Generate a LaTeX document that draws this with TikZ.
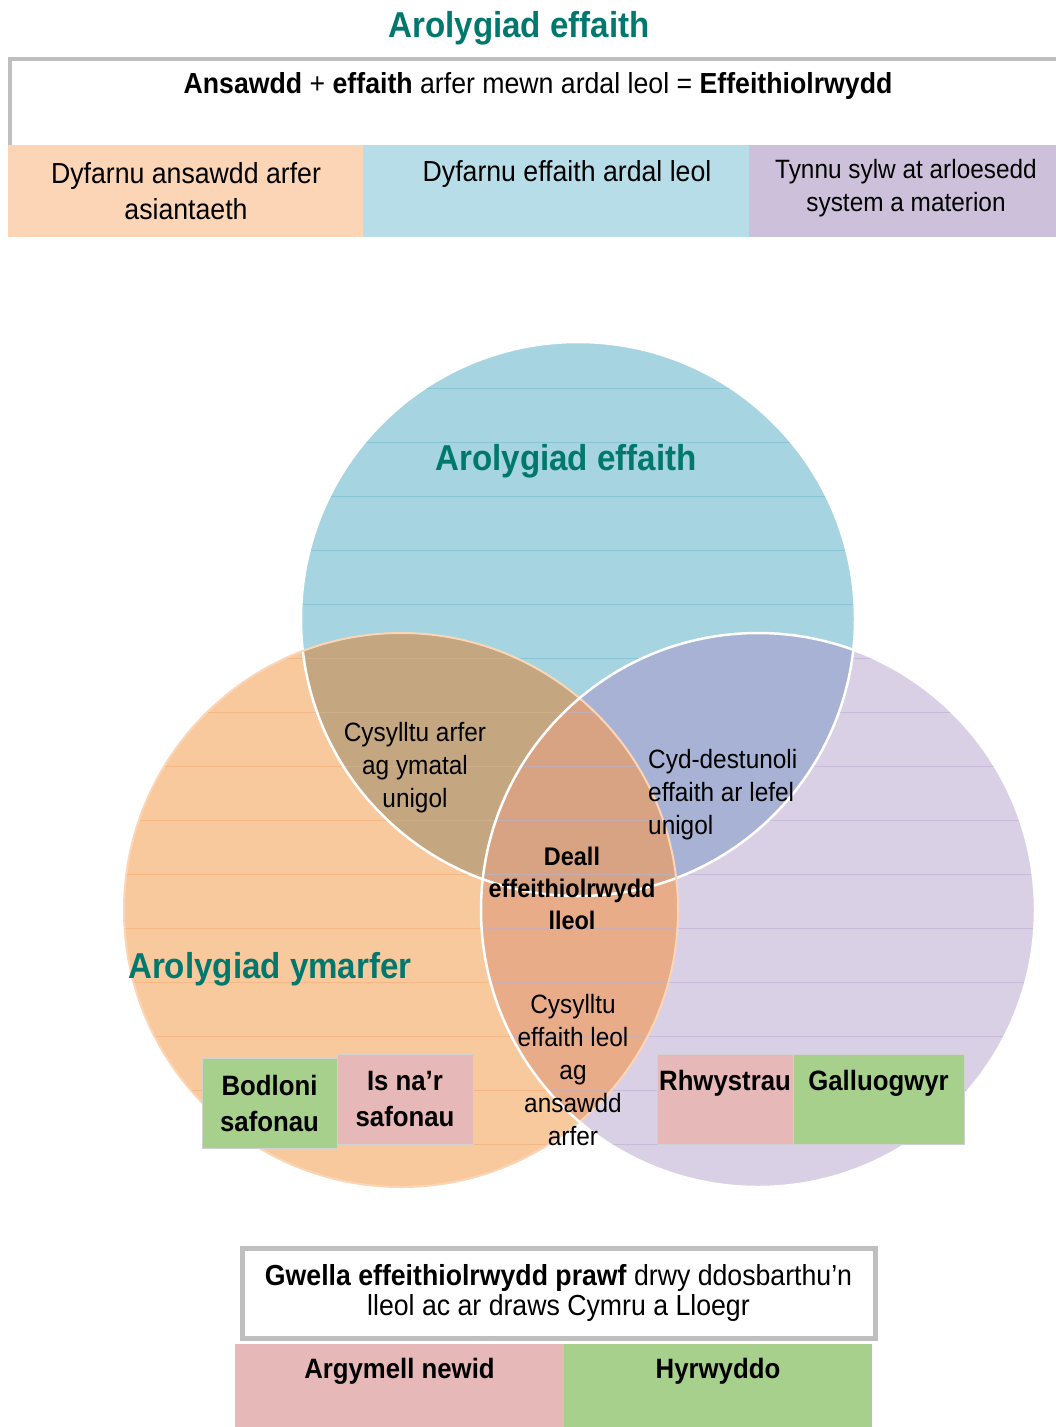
\documentclass[tikz,border=0pt]{standalone}
\usepackage{fontspec}
\setmainfont{Liberation Sans}[FakeStretch=0.92]
\definecolor{titlegreen}{RGB}{0,120,110}
\definecolor{boxgrey}{RGB}{191,191,191}
\definecolor{stripor}{RGB}{251,213,181}
\definecolor{stripbl}{RGB}{183,221,232}
\definecolor{stripli}{RGB}{204,192,218}
\definecolor{circbl}{RGB}{166,212,224}
\definecolor{circor}{RGB}{249,201,158}
\definecolor{circli}{RGB}{218,208,229}
\definecolor{ovtl}{RGB}{196,166,128}
\definecolor{ovtr}{RGB}{167,178,212}
\definecolor{ovlr}{RGB}{232,172,137}
\definecolor{ovall}{RGB}{216,163,131}
\definecolor{lnbl}{RGB}{118,188,206}
\definecolor{lnor}{RGB}{243,172,116}
\definecolor{lnli}{RGB}{188,174,210}
\definecolor{boxgreen}{RGB}{168,208,141}
\definecolor{boxpink}{RGB}{230,184,183}
\begin{document}
\begin{tikzpicture}[x=1pt,y=-1pt,
  txt/.style={align=center,inner sep=0pt,font=\fontsize{26.5}{33}\selectfont},
  wide/.style={txt,font=\fontsize{29}{36}\selectfont},
  bold/.style={txt,font=\fontsize{28}{36}\selectfont\bfseries},
  head/.style={inner sep=0pt,text=titlegreen,font=\fontsize{36}{40}\selectfont\bfseries},
  band/.style={inner sep=0pt,minimum height=92pt},
  tile/.style={draw=black!18,line width=1pt,inner sep=0pt,minimum height=90pt}]
\useasboundingbox (0,0) rectangle (1056,1427);
\tikzset{ring/.style={radius=277}}
% top part
\node[head] (title) at (519,28) {Arolygiad effaith};
\draw[boxgrey,line width=4pt] (1060,59) -- (10,59) -- (10,147);
\node[wide] (sum) at (538,86) {\textbf{Ansawdd} + \textbf{effaith} arfer mewn ardal leol = \textbf{Effeithiolrwydd}};
\node[band,fill=stripor,minimum width=355pt] (judge) at (185.5,191) {};
\node[band,fill=stripbl,minimum width=386pt] (area) at (556,191) {};
\node[band,fill=stripli,minimum width=307pt] (note) at (902.5,191) {};
\node[wide] (judget) at (186,191) {Dyfarnu ansawdd arfer\\asiantaeth};
\node[wide] (areat) at (567,174) {Dyfarnu effaith ardal leol};
\node[txt,font=\fontsize{26.5}{33}\selectfont] (notet) at (906,188) {Tynnu sylw at arloesedd\\system a materion};
% venn
\coordinate (ct) at (578,619);
\coordinate (cl) at (401,910);
\coordinate (cr) at (758,910);
\fill[circbl] (ct) circle[ring];
\fill[circor] (cl) circle[ring];
\fill[circli] (cr) circle[ring];
\begin{scope}
  \clip (ct) circle[ring];
  \fill[ovtl] (cl) circle[ring];
  \fill[ovtr] (cr) circle[ring];
\end{scope}
\begin{scope}
  \clip (cl) circle[ring];
  \fill[ovlr] (cr) circle[ring];
  \clip (ct) circle[ring];
  \fill[ovall] (cr) circle[ring];
\end{scope}
\begin{scope}
  \clip (ct) circle[ring];
  \foreach \yy in {388,442,...,900} \draw[lnbl,opacity=.6] (0,\yy) -- (1056,\yy);
\end{scope}
\begin{scope}
  \clip (cl) circle[ring];
  \foreach \yy in {658,712,...,1190} \draw[lnor,opacity=.6] (0,\yy) -- (1056,\yy);
\end{scope}
\begin{scope}
  \clip (cr) circle[ring];
  \foreach \yy in {658,712,...,1190} \draw[lnli,opacity=.6] (0,\yy) -- (1056,\yy);
\end{scope}
\draw[white,line width=2.5pt] (ct) circle[ring];
\draw[stripor,line width=2pt] (cl) circle[ring];
\draw[white,line width=2.5pt] (cr) circle[ring];
\node[head] (impact) at (566,461) {Arolygiad effaith};
\node[head,anchor=west] (practice) at (128,969) {Arolygiad ymarfer};
\node[txt] (link1) at (415,768) {Cysylltu arfer\\ag ymatal\\unigol};
\node[txt,align=left,anchor=west] (context) at (648,795) {Cyd-destunoli\\effaith ar lefel\\unigol};
\node[bold,font=\fontsize{25.5}{32}\selectfont\bfseries] (understand) at (572,888) {Deall\\effeithiolrwydd\\lleol};
\node[txt] (link2) at (573,1070) {Cysylltu\\effaith leol\\ag\\ansawdd\\arfer};
% boxes in the circles
\node[tile,fill=boxgreen,minimum width=135pt,bold] (meet) at (269.5,1103) {Bodloni\\safonau};
\node[tile,fill=boxpink,minimum width=136pt,bold] (below) at (405,1099) {Is na'r\\safonau};
\node[tile,fill=boxpink,minimum width=136pt] (barrier) at (725,1099.5) {};
\node[tile,fill=boxgreen,minimum width=171pt] (enable) at (878.5,1099.5) {};
\node[bold] (barriert) at (725,1083) {Rhwystrau};
\node[bold] (enablet) at (878.5,1083) {Galluogwyr};
% bottom part
\node[draw=boxgrey,line width=5pt,fill=white,minimum width=633pt,minimum height=90pt] (improve) at (558.5,1293.5) {};
\node[wide,font=\fontsize{29}{30}\selectfont] (improvet) at (558.5,1293) {\textbf{Gwella effeithiolrwydd prawf} drwy ddosbarthu'n\\lleol ac ar draws Cymru a Lloegr};
\node[band,fill=boxpink,minimum width=329pt,minimum height=84pt] (recommend) at (399.5,1386) {};
\node[band,fill=boxgreen,minimum width=308pt,minimum height=84pt] (promote) at (718,1386) {};
\node[bold] (recommendt) at (399.5,1371) {Argymell newid};
\node[bold] (promotet) at (718,1371) {Hyrwyddo};
\end{tikzpicture}
\end{document}
